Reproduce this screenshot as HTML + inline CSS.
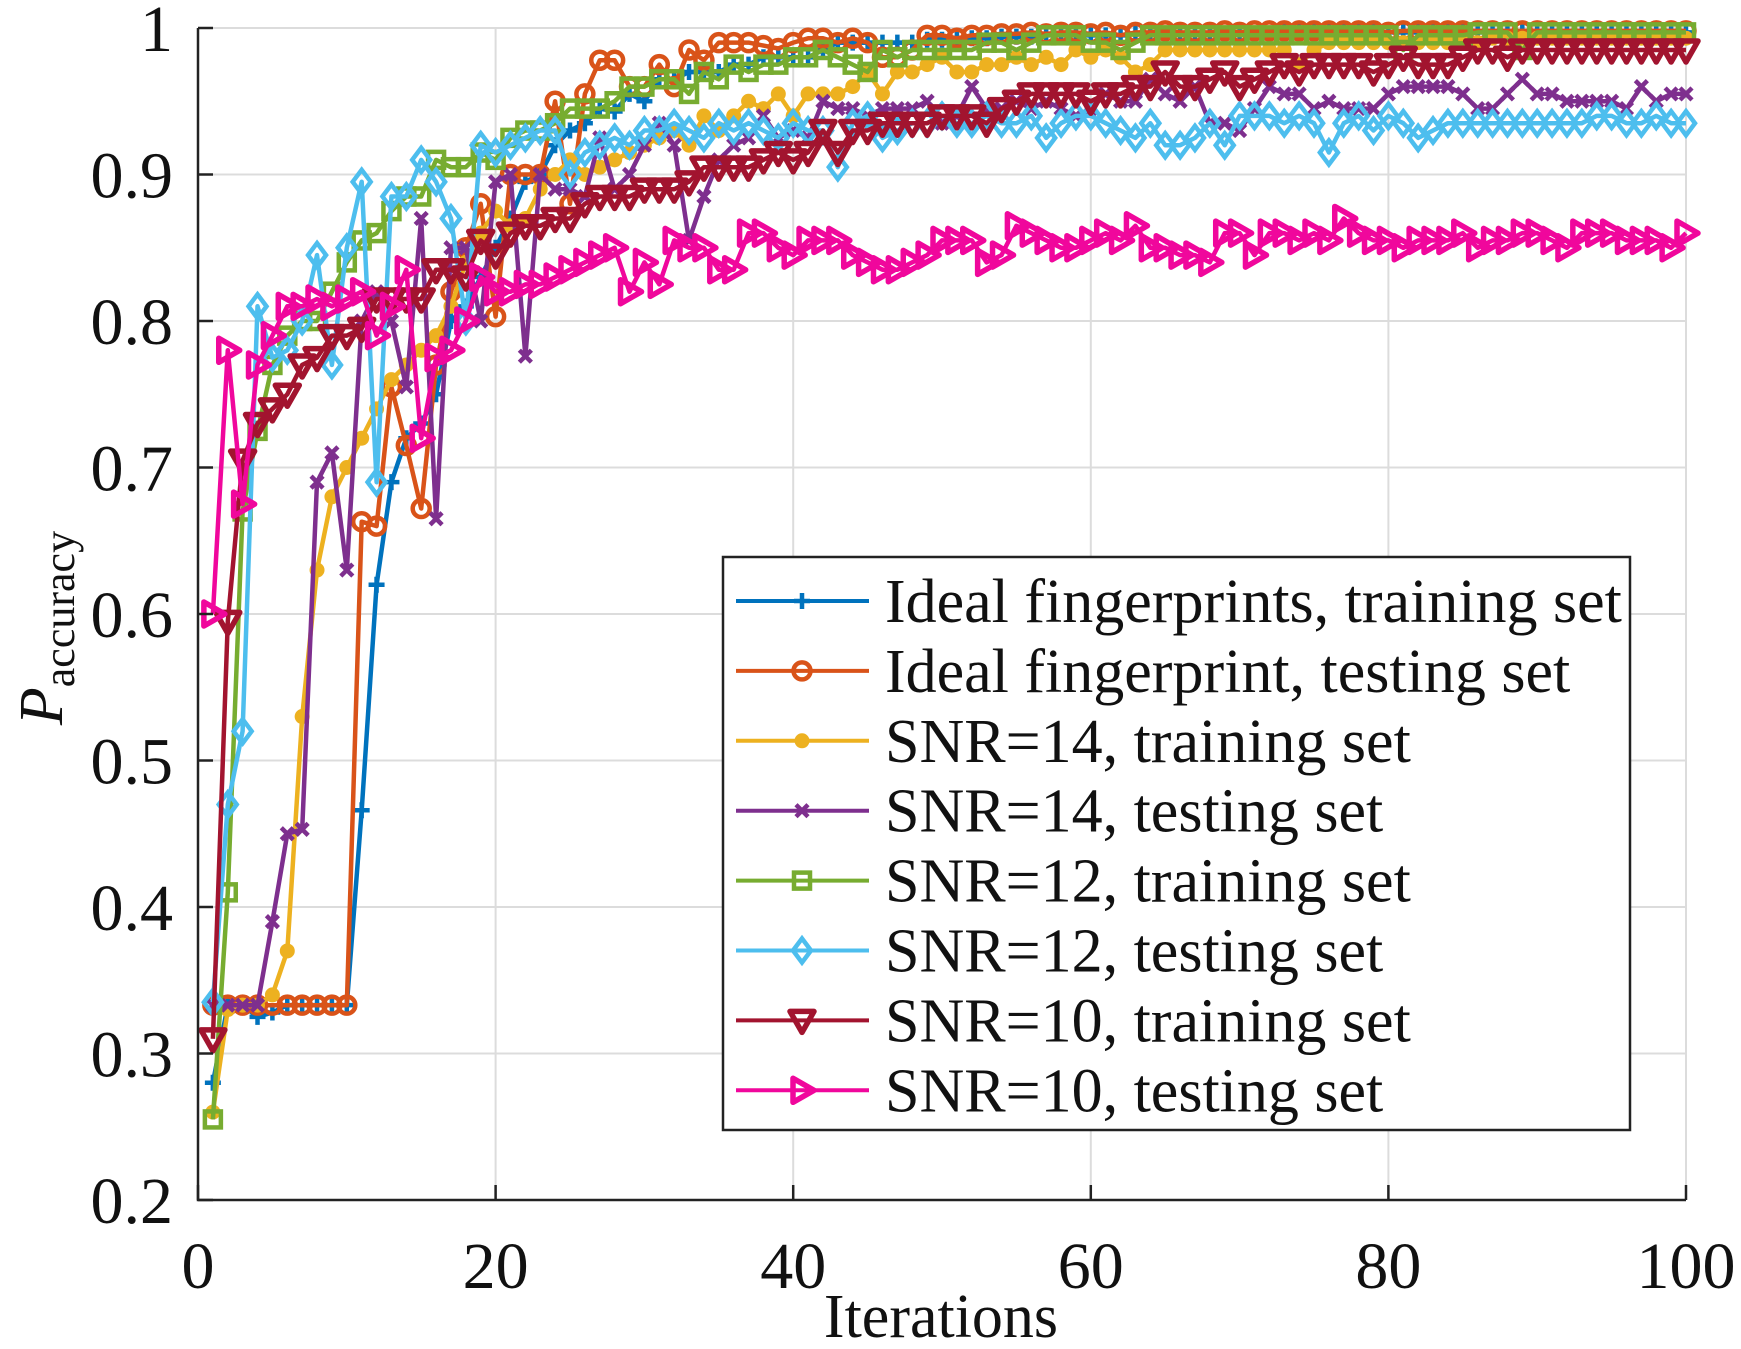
<!DOCTYPE html>
<html><head><meta charset="utf-8"><style>
html,body{margin:0;padding:0;background:#fff;}
svg{display:block;font-family:"Liberation Serif",serif;}
</style></head><body>
<svg id="chart" width="1741" height="1349" viewBox="0 0 1741 1349" xmlns="http://www.w3.org/2000/svg">
<rect width="1741" height="1349" fill="#fff"/>
<g id="grid"></g>
<g id="series"></g>
<g id="axes"></g>
<g id="legend"></g>
<text x="941" y="1337" font-size="62" text-anchor="middle" fill="#111">Iterations</text>
<text transform="translate(62,628) rotate(-90)" font-size="62" text-anchor="middle" fill="#111"><tspan font-style="italic">P</tspan><tspan font-size="44" dy="12">accuracy</tspan></text>
</svg>
<script>
const xTicks=[0,20,40,60,80,100];
const yTicks=[0.2,0.3,0.4,0.5,0.6,0.7,0.8,0.9,1];
const yTickLabels=["0.2","0.3","0.4","0.5","0.6","0.7","0.8","0.9","1"];
const seriesNames=["Ideal fingerprints, training set","Ideal fingerprint, testing set","SNR=14, training set","SNR=14, testing set","SNR=12, training set","SNR=12, testing set","SNR=10, training set","SNR=10, testing set"];
const idealTrain=[0.28,0.333,0.333,0.325,0.328,0.333,0.333,0.333,0.333,0.333,0.466,0.62,0.69,0.72,0.73,0.75,0.80,0.81,0.83,0.85,0.87,0.895,0.90,0.92,0.93,0.935,0.945,0.943,0.955,0.95,0.965,0.965,0.97,0.97,0.97,0.975,0.975,0.98,0.98,0.98,0.98,0.985,0.99,0.99,0.99,0.99,0.99,0.99,0.992,0.992,0.993,0.993,0.993,0.994,0.994,0.994,0.995,0.995,0.995,0.995,0.995,0.995,0.996,0.996,0.996,0.996,0.996,0.996,0.996,0.996,0.996,0.996,0.997,0.997,0.997,0.997,0.997,0.997,0.997,0.997,0.997,0.997,0.997,0.997,0.997,0.997,0.997,0.997,0.997,0.997,0.997,0.997,0.997,0.997,0.997,0.997,0.997,0.997,0.997,0.997];
const idealTest=[0.333,0.333,0.333,0.333,0.333,0.333,0.333,0.333,0.333,0.333,0.663,0.66,0.755,0.715,0.672,0.77,0.82,0.85,0.88,0.803,0.90,0.90,0.90,0.95,0.88,0.955,0.978,0.978,0.96,0.96,0.975,0.96,0.985,0.978,0.99,0.99,0.99,0.988,0.986,0.99,0.993,0.993,0.99,0.993,0.99,0.98,0.98,0.985,0.995,0.995,0.993,0.995,0.995,0.996,0.996,0.997,0.996,0.997,0.997,0.996,0.997,0.995,0.997,0.997,0.998,0.997,0.997,0.997,0.998,0.997,0.998,0.998,0.998,0.998,0.998,0.998,0.998,0.998,0.998,0.997,0.998,0.998,0.998,0.998,0.998,0.998,0.998,0.998,0.998,0.998,0.998,0.998,0.998,0.998,0.998,0.998,0.998,0.998,0.998,0.998];
const snr14Train=[0.26,0.33,0.333,0.333,0.34,0.37,0.53,0.63,0.68,0.70,0.72,0.74,0.76,0.77,0.78,0.79,0.81,0.84,0.86,0.875,0.865,0.87,0.89,0.90,0.91,0.90,0.905,0.91,0.915,0.92,0.925,0.93,0.92,0.94,0.93,0.94,0.95,0.945,0.955,0.94,0.955,0.955,0.955,0.96,0.97,0.955,0.97,0.97,0.975,0.98,0.97,0.97,0.975,0.975,0.98,0.975,0.98,0.975,0.985,0.98,0.985,0.98,0.97,0.975,0.985,0.985,0.985,0.985,0.985,0.985,0.985,0.985,0.985,0.975,0.985,0.99,0.99,0.99,0.99,0.99,0.99,0.99,0.99,0.99,0.99,0.99,0.993,0.993,0.993,0.993,0.993,0.993,0.993,0.993,0.993,0.993,0.993,0.993,0.993,0.993];
const snr14Test=[0.333,0.333,0.333,0.333,0.39,0.45,0.453,0.69,0.71,0.63,0.80,0.82,0.80,0.755,0.87,0.665,0.85,0.85,0.80,0.895,0.90,0.776,0.90,0.89,0.89,0.885,0.925,0.89,0.90,0.92,0.935,0.92,0.855,0.885,0.91,0.92,0.925,0.94,0.925,0.93,0.925,0.95,0.945,0.945,0.94,0.945,0.945,0.945,0.95,0.935,0.94,0.96,0.945,0.945,0.95,0.945,0.95,0.945,0.94,0.945,0.955,0.95,0.95,0.965,0.955,0.95,0.96,0.935,0.935,0.93,0.945,0.96,0.955,0.955,0.945,0.95,0.945,0.945,0.945,0.955,0.96,0.96,0.96,0.96,0.955,0.945,0.945,0.955,0.965,0.955,0.955,0.95,0.95,0.95,0.95,0.945,0.96,0.95,0.955,0.955];
const snr12Train=[0.255,0.41,0.67,0.725,0.77,0.79,0.80,0.80,0.82,0.84,0.855,0.86,0.875,0.885,0.885,0.91,0.905,0.905,0.915,0.91,0.925,0.93,0.93,0.935,0.945,0.945,0.945,0.95,0.96,0.96,0.965,0.965,0.955,0.97,0.965,0.975,0.97,0.975,0.975,0.98,0.98,0.985,0.98,0.975,0.97,0.985,0.98,0.985,0.985,0.985,0.985,0.985,0.99,0.99,0.985,0.99,0.995,0.995,0.995,0.99,0.99,0.985,0.99,0.995,0.995,0.995,0.995,0.995,0.995,0.995,0.995,0.995,0.995,0.995,0.995,0.995,0.995,0.995,0.995,0.995,0.985,0.995,0.995,0.995,0.995,0.997,0.997,0.997,0.985,0.997,0.997,0.997,0.997,0.997,0.997,0.997,0.997,0.997,0.997,0.997];
const snr12Test=[0.335,0.47,0.52,0.81,0.775,0.78,0.80,0.845,0.77,0.85,0.895,0.69,0.885,0.885,0.91,0.895,0.87,0.80,0.92,0.915,0.92,0.925,0.93,0.93,0.90,0.915,0.92,0.925,0.92,0.93,0.93,0.935,0.93,0.925,0.935,0.93,0.935,0.93,0.925,0.935,0.93,0.93,0.905,0.935,0.94,0.925,0.93,0.935,0.935,0.94,0.935,0.935,0.94,0.935,0.935,0.94,0.925,0.935,0.94,0.94,0.935,0.93,0.925,0.935,0.92,0.92,0.925,0.935,0.92,0.94,0.94,0.94,0.935,0.94,0.935,0.915,0.935,0.94,0.93,0.94,0.935,0.925,0.93,0.935,0.935,0.935,0.935,0.935,0.935,0.935,0.935,0.935,0.935,0.94,0.94,0.935,0.935,0.94,0.935,0.935];
const snr10Train=[0.31,0.595,0.705,0.73,0.74,0.75,0.77,0.775,0.79,0.79,0.795,0.815,0.815,0.815,0.815,0.835,0.835,0.83,0.855,0.845,0.86,0.865,0.865,0.87,0.87,0.88,0.885,0.885,0.885,0.89,0.89,0.89,0.895,0.905,0.905,0.905,0.905,0.91,0.915,0.91,0.915,0.93,0.915,0.93,0.93,0.935,0.935,0.935,0.935,0.94,0.94,0.94,0.935,0.945,0.95,0.955,0.955,0.955,0.955,0.95,0.955,0.955,0.96,0.96,0.97,0.96,0.96,0.965,0.97,0.96,0.965,0.97,0.975,0.97,0.975,0.975,0.975,0.975,0.97,0.975,0.98,0.975,0.975,0.975,0.98,0.985,0.985,0.98,0.985,0.985,0.985,0.985,0.985,0.985,0.985,0.985,0.985,0.985,0.985,0.985];
const snr10Test=[0.60,0.78,0.675,0.77,0.79,0.81,0.81,0.815,0.81,0.815,0.82,0.79,0.81,0.835,0.72,0.775,0.78,0.80,0.83,0.82,0.82,0.825,0.825,0.83,0.835,0.84,0.845,0.85,0.82,0.84,0.825,0.855,0.85,0.85,0.835,0.835,0.86,0.86,0.85,0.845,0.855,0.855,0.855,0.845,0.84,0.835,0.835,0.84,0.845,0.855,0.855,0.855,0.84,0.845,0.865,0.86,0.855,0.85,0.85,0.855,0.86,0.855,0.865,0.85,0.85,0.845,0.845,0.84,0.86,0.86,0.845,0.86,0.86,0.855,0.86,0.855,0.87,0.86,0.855,0.855,0.85,0.855,0.855,0.855,0.86,0.85,0.855,0.855,0.86,0.86,0.855,0.85,0.86,0.86,0.86,0.855,0.855,0.855,0.85,0.86];

const NS="http://www.w3.org/2000/svg";
const X0=198,X1=1686,YT=28,YB=1200;
const xs=v=>X0+(v-0)/(100-0)*(X1-X0);
const ys=v=>YB-(v-0.2)/(1-0.2)*(YB-YT);
function mk(tag,attrs,parent){const e=document.createElementNS(NS,tag);for(const k in attrs)e.setAttribute(k,attrs[k]);parent.appendChild(e);return e;}
const grid=document.getElementById('grid'),axes=document.getElementById('axes'),sg=document.getElementById('series'),lg=document.getElementById('legend');
xTicks.forEach(t=>{
  const l=mk('line',{x1:xs(t),x2:xs(t),y1:YT,y2:YB,stroke:'#dcdcdc','stroke-width':2},grid);
  
  
  const tk=mk('line',{x1:xs(t),x2:xs(t),y1:YB,y2:YB-15,stroke:'#222','stroke-width':2.5},axes);
  
  
  const tx=mk('text',{x:xs(t),y:1288,'font-size':66,'text-anchor':'middle',fill:'#111'},axes);
  tx.textContent=t;
  
  
});
yTicks.forEach((t,i)=>{
  const l=mk('line',{x1:X0,x2:X1,y1:ys(t),y2:ys(t),stroke:'#dcdcdc','stroke-width':2},grid);
  
  
  const tk=mk('line',{x1:X0,x2:X0+15,y1:ys(t),y2:ys(t),stroke:'#222','stroke-width':2.5},axes);
  
  
  const tx=mk('text',{x:173,y:ys(t)+23,'font-size':66,'text-anchor':'end',fill:'#111'},axes);
  tx.textContent=yTickLabels[i];
  
  
});
const ax=mk('polyline',{points:`${X0},${YT} ${X0},${YB} ${X1},${YB}`,fill:'none',stroke:'#222','stroke-width':2.5},axes);



const allData=[idealTrain,idealTest,snr14Train,snr14Test,snr12Train,snr12Test,snr10Train,snr10Test];
const colors=['#0072BD','#D95319','#EDB120','#7E2F8E','#77AC30','#4DBEEE','#A2142F','#F0079C'];
const markers=['plus','circle','dot','x','square','diamond','tridown','triright'];
const keys=['ideal-train','ideal-test','snr14-train','snr14-test','snr12-train','snr12-test','snr10-train','snr10-test'];
function marker(type,x,y,c,g){
  const s=8,w=4.5;let e;
  if(type==='plus')e=mk('path',{d:`M${x-s},${y}H${x+s}M${x},${y-s}V${y+s}`,stroke:c,'stroke-width':w,fill:'none'},g);
  else if(type==='circle')e=mk('circle',{cx:x,cy:y,r:8.5,stroke:c,'stroke-width':w,fill:'none'},g);
  else if(type==='dot')e=mk('circle',{cx:x,cy:y,r:7.5,fill:c},g);
  else if(type==='x')e=mk('path',{d:`M${x-6},${y-6}L${x+6},${y+6}M${x-6},${y+6}L${x+6},${y-6}`,stroke:c,'stroke-width':w,fill:'none'},g);
  else if(type==='square')e=mk('rect',{x:x-8,y:y-8,width:16,height:16,stroke:c,'stroke-width':w,fill:'none'},g);
  else if(type==='diamond')e=mk('path',{d:`M${x},${y-12}L${x+9},${y}L${x},${y+12}L${x-9},${y}Z`,stroke:c,'stroke-width':w,fill:'none'},g);
  else if(type==='tridown')e=mk('path',{d:`M${x-12},${y-9}L${x+12},${y-9}L${x},${y+12}Z`,stroke:c,'stroke-width':w+1,fill:'none','stroke-linejoin':'round'},g);
  else e=mk('path',{d:`M${x-9},${y-12}L${x+12},${y}L${x-9},${y+12}Z`,stroke:c,'stroke-width':w+1,fill:'none','stroke-linejoin':'round'},g);
  
  
}
allData.forEach((d,si)=>{
  const g=mk('g',{},sg);
  
  
  const pts=d.map((v,i)=>`${xs(i+1).toFixed(1)},${ys(v).toFixed(1)}`).join(' ');
  const pl=mk('polyline',{points:pts,fill:'none',stroke:colors[si],'stroke-width':4.5,'stroke-linejoin':'round'},g);
  
  
  d.forEach((v,i)=>marker(markers[si],xs(i+1),ys(v),colors[si],g));
});
const box=mk('rect',{x:723,y:557,width:907,height:573,fill:'#fff',stroke:'#222','stroke-width':2.5},lg);


seriesNames.forEach((n,i)=>{
  const cy=601+i*69.9;
  const g=mk('g',{},lg);
  
  
  mk('line',{x1:736,x2:869,y1:cy,y2:cy,stroke:colors[i],'stroke-width':4},g);
  marker(markers[i],802,cy,colors[i],g);
  const t=mk('text',{x:885,y:cy+21,'font-size':62,fill:'#111'},g);
  t.textContent=n;
  
  
});
</script>
</body></html>
